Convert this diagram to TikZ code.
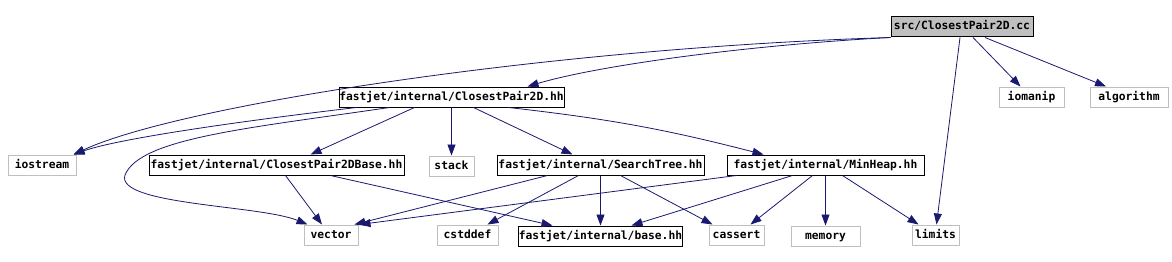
\documentclass[tikz,border=0pt]{standalone}
\usepackage{fontspec}
\setmonofont{DejaVu Sans Mono}
\usetikzlibrary{positioning,arrows.meta}
\definecolor{doxedge}{HTML}{191970}
\definecolor{doxgray}{HTML}{BFBFBF}

\begin{document}
\begin{tikzpicture}[x=1pt, y=-1pt, node distance=48pt,
    font=\ttfamily\bfseries\fontsize{11.3}{13}\selectfont,
    header/.style={draw=black, line width=1pt, minimum height=20pt, inner sep=0pt,
      text height=8.5pt, text depth=2.5pt},
    sysheader/.style={header, draw=doxgray},
    edge/.style={draw=doxedge, line width=0.8pt, -{Triangle[length=11pt,width=8pt]}}]
  \useasboundingbox (0,0) rectangle (1172,262);

  % top and second row
  \node (src-cc) [header, fill=doxgray, minimum width=142pt] at (962,27) {src/ClosestPair2D.cc};
  \node (inc-closest) [header, minimum width=225pt] at (451.5,97) {fastjet/internal/ClosestPair2D.hh};
  \node (std-iomanip) [sysheader, minimum width=65pt] at (1031.5,97) {iomanip};
  \node (std-algorithm) [sysheader, minimum width=78pt, right=25pt of std-iomanip] {algorithm};

  % third row
  \node (std-iostream) [sysheader, minimum width=68pt] at (42,165) {iostream};
  \node (inc-closestbase) [header, minimum width=255pt] at (276.5,165) {fastjet/internal/ClosestPair2DBase.hh};
  \node (std-stack) [sysheader, minimum width=45pt, below=of inc-closest] {stack};
  \node (inc-searchtree) [header, minimum width=207pt] at (600.5,165) {fastjet/internal/SearchTree.hh};
  \node (inc-minheap) [header, minimum width=197pt] at (825.5,165) {fastjet/internal/MinHeap.hh};

  % bottom row
  \node (std-vector) [sysheader, minimum width=54pt] at (331,235) {vector};
  \node (std-cstddef) [sysheader, minimum width=61pt] at (467.5,235) {cstddef};
  \node (inc-base) [header, minimum width=163pt, below=50pt of inc-searchtree] {fastjet/internal/base.hh};
  \node (std-cassert) [sysheader, minimum width=55pt] at (736.5,235) {cassert};
  \node (std-memory) [sysheader, minimum width=69pt, below=50pt of inc-minheap] {memory};
  \node (std-limits) [sysheader, minimum width=47pt] at (935.5,235) {limits};

  % includes of the source file
  \draw[edge] (src-cc.south west) .. controls (750,45) and (600,65) .. ([xshift=76pt]inc-closest.north);
  \draw[edge] (src-cc.south west) .. controls (550,48) and (180,105) .. ([xshift=-3pt]std-iostream.north east);
  \draw[edge] ([xshift=11pt]src-cc.south) -- ([xshift=-11pt]std-iomanip.north);
  \draw[edge] ([xshift=23pt]src-cc.south) -- ([xshift=-23pt]std-algorithm.north);
  \draw[edge] ([xshift=-2pt]src-cc.south) -- ([xshift=1pt]std-limits.north);

  % ClosestPair2D.hh
  \draw[edge] ([xshift=18pt]inc-closest.south west) .. controls (250,120) and (120,138) .. ([xshift=-3pt]std-iostream.north east);
  \draw[edge] ([xshift=51pt]inc-closest.south west) .. controls (250,128) and (140,138) .. (125,175)
    .. controls (115,205) and (260,205) .. ([xshift=4pt]std-vector.north west);
  \draw[edge] ([xshift=76pt]inc-closest.south west) -- ([xshift=34pt]inc-closestbase.north);
  \draw[edge] (inc-closest.south) -- (std-stack.north);
  \draw[edge] ([xshift=22pt]inc-closest.south) -- ([xshift=-28pt]inc-searchtree.north);
  \draw[edge] ([xshift=57pt]inc-closest.south) to[bend left=4] ([xshift=-62pt]inc-minheap.north);

  % ClosestPair2DBase.hh
  \draw[edge] ([xshift=9pt]inc-closestbase.south) -- ([xshift=-9pt]std-vector.north);
  \draw[edge] ([xshift=54pt]inc-closestbase.south) -- ([xshift=-48pt]inc-base.north);

  % SearchTree.hh
  \draw[edge] ([xshift=-53pt]inc-searchtree.south) -- ([xshift=-4pt]std-vector.north east);
  \draw[edge] ([xshift=-22pt]inc-searchtree.south) -- ([xshift=20pt]std-cstddef.north);
  \draw[edge] (inc-searchtree.south) -- (inc-base.north);
  \draw[edge] ([xshift=20pt]inc-searchtree.south) -- ([xshift=-24pt]std-cassert.north);

  % MinHeap.hh
  \draw[edge] ([xshift=-89pt]inc-minheap.south) -- ([xshift=1pt]std-vector.north east);
  \draw[edge] ([xshift=-33pt]inc-minheap.south) -- ([xshift=31pt]inc-base.north);
  \draw[edge] ([xshift=-13pt]inc-minheap.south) -- ([xshift=14pt]std-cassert.north);
  \draw[edge] (inc-minheap.south) -- (std-memory.north);
  \draw[edge] ([xshift=17pt]inc-minheap.south) -- ([xshift=-17pt]std-limits.north);
\end{tikzpicture}
\end{document}
